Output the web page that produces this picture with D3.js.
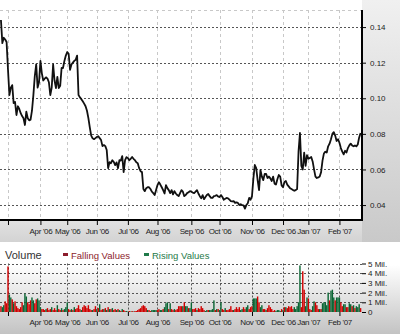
<!DOCTYPE html>
<html><head><meta charset="utf-8">
<script src="https://cdn.jsdelivr.net/npm/d3@7"></script>
<style>html,body{margin:0;padding:0;background:#fff;}svg{display:block;font-family:"Liberation Sans",Arial,sans-serif;}</style>
</head><body><div id="chart"></div>
<script>
// ---- data (index = trading day, starting late Feb 2006) ----
const priceValues = [
.144,.131,.134,.133,.1316,.116,.1018,.106,.1074,.0973,
.098,.0906,.0955,.094,.0916,.090,.0888,.085,.0925,.0888,
.0876,.088,.093,.1018,.1125,.119,.106,.109,.121,.114,
.110,.111,.1118,.111,.109,.1018,.106,.119,.110,.1057,
.112,.1057,.107,.117,.117,.121,.124,.126,.125,.116,
.119,.120,.121,.1216,.124,.1018,.1005,.0995,.0983,.097,
.0955,.093,.0888,.0837,.079,.0775,.077,.0776,.0782,.0787,
.0776,.0765,.0731,.0737,.0731,.0709,.0607,.0641,.0635,.0652,
.0642,.0624,.064,.0607,.0652,.065,.0675,.0585,.0652,.0669,
.0664,.0652,.066,.067,.066,.0652,.064,.0635,.0607,.059,
.0585,.049,.0478,.0495,.050,.050,.049,.0475,.0467,.0456,
.0484,.0512,.0528,.0515,.050,.0484,.0465,.0512,.0495,.0484,
.0467,.0484,.046,.0478,.0465,.0456,.045,.0467,.0484,.0475,
.045,.0456,.0467,.0472,.0478,.0475,.047,.0467,.0475,.0484,
.0465,.045,.0438,.0456,.0433,.0445,.0456,.0462,.045,.044,
.044,.045,.0452,.0456,.0448,.0445,.0456,.0445,.043,.0435,
.044,.0438,.043,.0422,.042,.0422,.0412,.0415,.0412,.040,
.0405,.040,.0398,.038,.040,.041,.044,.043,.045,.055,
.0625,.0608,.054,.0484,.0597,.056,.054,.0575,.0575,.0552,
.056,.055,.0535,.056,.052,.0515,.0545,.0569,.056,.051,
.050,.053,.0535,.0515,.0505,.0495,.049,.0485,.048,.0484,
.049,.070,.0805,.062,.060,.0695,.062,.068,.066,.0665,
.067,.0645,.060,.056,.0552,.0555,.056,.0585,.065,.069,
.070,.0695,.073,.0745,.077,.080,.081,.079,.076,.077,
.075,.072,.070,.0685,.0705,.0695,.072,.0735,.0745,.0735,
.073,.0735,.073,.074,.078,.0805
];
const volumeValues = [
0.6,0.5,0.7,1.1,0.9,4.7,1.8,1.5,1.3,0.9,
1.1,0.6,0.4,0.3,0.5,1.0,0.7,1.9,1.6,1.0,
0.8,1.2,1.5,1.2,0.9,1.3,1.4,1.2,0.5,0.3,
0.3,0.2,0.3,0.4,0.2,0.3,0.5,0.2,0.4,0.2,
0.7,0.3,0.2,0.4,0.2,0.3,0.5,1.0,0.3,0.2,
0.3,0.2,0.5,0.3,0.4,0.7,0.3,0.2,0.5,0.7,
0.6,0.4,0.7,0.3,0.2,0.2,0.3,0.6,0.3,0.4,
0.8,0.2,0.3,0.3,0.4,0.2,0.5,0.3,0.3,0.4,
0.2,0.3,0.2,0.3,0.2,0.1,0.3,0.2,0.1,0.1,
0.05,0.1,0.05,0.1,0.05,0.1,0.1,0.2,0.3,0.4,
0.6,0.7,0.6,0.4,0.2,0.2,0.1,0.2,0.2,0.2,
0.2,0.2,0.3,0.2,0.2,0.3,0.5,0.9,1.0,0.3,
0.9,0.3,0.2,0.3,0.2,0.3,0.6,0.6,0.6,0.6,
1.0,0.6,0.6,0.4,0.4,1.0,0.3,0.3,0.4,0.2,
0.4,0.3,0.6,0.4,0.2,0.1,0.2,0.2,0.2,0.2,
0.3,1.2,0.2,0.3,0.3,0.2,1.0,0.3,0.2,0.4,
0.2,0.2,0.3,0.6,0.2,0.2,0.3,0.5,0.3,0.5,
0.2,0.3,0.5,0.3,0.5,0.7,0.3,0.5,0.6,1.4,
1.4,1.4,1.6,1.0,0.5,0.7,0.3,0.3,0.2,0.4,
0.7,0.5,0.3,0.1,0.2,0.1,0.2,0.2,0.1,0.3,
0.2,0.5,0.5,0.4,0.6,0.5,0.6,0.3,0.5,0.3,
0.6,1.0,4.8,0.5,4.2,2.3,0.6,1.5,1.4,0.3,
0.2,0.6,1.1,1.0,0.7,0.3,0.3,0.3,0.9,1.0,
1.0,0.7,2.0,1.2,2.2,2.3,1.5,1.2,1.5,1.5,
1.5,1.0,0.6,0.8,0.8,0.5,0.5,0.9,0.8,0.6,
0.7,0.4,0.6,0.5,0.8,0.4
];
// r = falling, g = rising (same rows of ten as volumeValues)
const volumeDirection = [
"rggrrrggrg","rrrrrrgggr","rrggrrgggr","rrgrrrgrrr","grrgrgggrr",
"grgrrrrgrr","rrrrrgrrgr","grrgrgrgrg","rrgrgrgrrg","grgrgrrrrr",
"rrrrgrrggg","grrggrgggr","grrgrrrrrg","rggrggrrrg","rrrrrggrgg",
"ggrgrggrrg","rrrrrgrrrr","ggrrggrrrg","ggrrggrrgr","rrrrrggggr",
"grgrrrrrgg","gggrrrggrr","rggrrrgrgg","gggrgggrgg","grrggrrggr",
"grgggr"
].join("").split("");
const monthTickDays = [5, 28, 47, 68, 90, 111, 135, 155, 178, 200, 218, 240];
const monthLabels = ["", "Apr '06", "May '06", "Jun '06", "Jul '06", "Aug '06", "Sep '06", "Oct '06", "Nov '06", "Dec '06", "Jan '07", "Feb '07"];
const priceTicks = [0.04, 0.06, 0.08, 0.10, 0.12, 0.14];
const volumeTicks = [0, 1, 2, 3, 4, 5];
const volumeTickLabels = ["0", "1 Mil.", "2 Mil.", "3 Mil.", "4 Mil.", "5 Mil."];
const legendItems = ["Falling Values", "Rising Values"];

// ---- layout ----
const W = 400, H = 334;
const plotRight = 362;
const main = {top: 10, bottom: 220};
const vol = {top: 263.5, bottom: 312};
const colors = {r: "#d10000", g: "#0a6634"};
const legendColors = ["#8c1c2c", "#1f7a49"];

const svg = d3.select("#chart").append("svg").attr("width", W).attr("height", H);
const defs = svg.append("defs");
function vgrad(id, stops) {
  const g = defs.append("linearGradient").attr("id", id).attr("x1", 0).attr("y1", 0).attr("x2", 0).attr("y2", 1);
  stops.forEach(s => g.append("stop").attr("offset", s[0]).attr("stop-color", s[1]));
}
vgrad("gRight", [[0, "#f0f0f0"], [1, "#c9c9c9"]]);
vgrad("gBand", [[0, "#e2e2e2"], [1, "#d3d3d3"]]);
vgrad("gVol", [[0, "#ffffff"], [0.25, "#ffffff"], [1, "#c3c3c3"]]);

svg.append("rect").attr("x", 0).attr("y", 242).attr("width", W).attr("height", H - 242).attr("fill", "url(#gVol)");
svg.append("rect").attr("x", plotRight).attr("y", 0).attr("width", W - plotRight).attr("height", 242).attr("fill", "url(#gRight)");
svg.append("rect").attr("x", 0).attr("y", main.bottom).attr("width", plotRight).attr("height", 242 - main.bottom).attr("fill", "url(#gBand)");

const x = d3.scaleLinear().domain([-0.67, 256]).range([0, plotRight]);
const y = d3.scaleLinear().domain([0.0316, 0.1496]).range([main.bottom, main.top]);
const yv = d3.scaleLinear().domain([0, 5]).range([vol.bottom, vol.top]);

// ---- main grid ----
const grid = svg.append("g");
grid.selectAll(".vg").data(monthTickDays).join("line")
  .attr("x1", d => Math.round(x(d)) + 0.5).attr("x2", d => Math.round(x(d)) + 0.5)
  .attr("y1", main.top).attr("y2", main.bottom)
  .attr("stroke", "#c8c8c8").attr("stroke-dasharray", "3,3");
grid.append("line").attr("x1", 0).attr("x2", plotRight).attr("y1", main.top + 0.5).attr("y2", main.top + 0.5)
  .attr("stroke", "#c8c8c8").attr("stroke-dasharray", "3,3");
grid.selectAll(".hg").data(priceTicks).join("line")
  .attr("x1", 0).attr("x2", plotRight)
  .attr("y1", d => Math.round(y(d)) + 0.5).attr("y2", d => Math.round(y(d)) + 0.5)
  .attr("stroke", "#555").attr("stroke-dasharray", "2,2");

// ---- price line ----
svg.append("path").datum(priceValues)
  .attr("fill", "none").attr("stroke", "#111").attr("stroke-width", 1.8).attr("stroke-linejoin", "round")
  .attr("d", d3.line().x((d, i) => x(i)).y(d => y(d)));

// ---- main axes ----
const yAxis = d3.axisRight(y).tickValues(priceTicks).tickFormat(d3.format(".2f")).tickSize(4).tickPadding(4);
const ya = svg.append("g").attr("transform", `translate(${plotRight},0)`).call(yAxis);
ya.select(".domain").remove();
ya.selectAll("line").attr("stroke", "#000");
ya.selectAll("text").attr("font-size", 8).attr("fill", "#222").attr("font-family", "Liberation Sans, Arial, sans-serif");
svg.append("line").attr("x1", plotRight).attr("x2", plotRight).attr("y1", main.top).attr("y2", main.bottom + 1)
  .attr("stroke", "#000").attr("stroke-width", 2);
svg.append("line").attr("x1", 0).attr("x2", plotRight + 1).attr("y1", main.bottom).attr("y2", main.bottom)
  .attr("stroke", "#000").attr("stroke-width", 2);

function monthAxis(yPos) {
  const ax = d3.axisBottom(x).tickValues(monthTickDays).tickFormat((d, i) => monthLabels[i]).tickSize(4).tickPadding(3);
  const g = svg.append("g").attr("transform", `translate(0,${yPos})`).call(ax);
  g.select(".domain").remove();
  g.selectAll("line").attr("stroke", "#000");
  g.selectAll("text").attr("font-size", 8).attr("letter-spacing", -0.35).attr("fill", "#222")
    .attr("font-family", "Liberation Sans, Arial, sans-serif");
  return g;
}
monthAxis(main.bottom + 1);

// ---- volume panel ----
svg.append("text").attr("x", 5).attr("y", 259).attr("font-size", 11).attr("fill", "#333").text("Volume");
const legend = svg.append("g");
[63, 144].forEach((lx, i) => {
  legend.append("rect").attr("x", lx).attr("y", 253).attr("width", 5).attr("height", 3).attr("fill", legendColors[i]);
  legend.append("text").attr("x", lx + 8).attr("y", 259).attr("font-size", 9.5).attr("fill", legendColors[i]).text(legendItems[i]);
});

const vgrid = svg.append("g");
vgrid.selectAll(".vvg").data(monthTickDays).join("line")
  .attr("x1", d => Math.round(x(d)) + 0.5).attr("x2", d => Math.round(x(d)) + 0.5)
  .attr("y1", vol.top).attr("y2", vol.bottom)
  .attr("stroke", "#555").attr("stroke-dasharray", "2,2");
vgrid.selectAll(".vhg").data(volumeTicks.slice(1)).join("line")
  .attr("x1", 0).attr("x2", plotRight)
  .attr("y1", d => Math.round(yv(d)) + 0.5).attr("y2", d => Math.round(yv(d)) + 0.5)
  .attr("stroke", "#555").attr("stroke-dasharray", "2,2");

svg.append("g").selectAll("rect").data(volumeValues).join("rect")
  .attr("x", (d, i) => x(i) - 0.7).attr("width", 1.4)
  .attr("y", d => yv(d)).attr("height", d => yv(0) - yv(d))
  .attr("fill", (d, i) => colors[volumeDirection[i]] || colors.r);

const vAxis = d3.axisRight(yv).tickValues(volumeTicks).tickFormat((d, i) => volumeTickLabels[i]).tickSize(4).tickPadding(2);
const va = svg.append("g").attr("transform", `translate(${plotRight},0)`).call(vAxis);
va.select(".domain").remove();
va.selectAll("line").attr("stroke", "#000");
va.selectAll("text").attr("font-size", 8).attr("fill", "#222").attr("font-family", "Liberation Sans, Arial, sans-serif");

monthAxis(vol.bottom);
</script></body></html>
